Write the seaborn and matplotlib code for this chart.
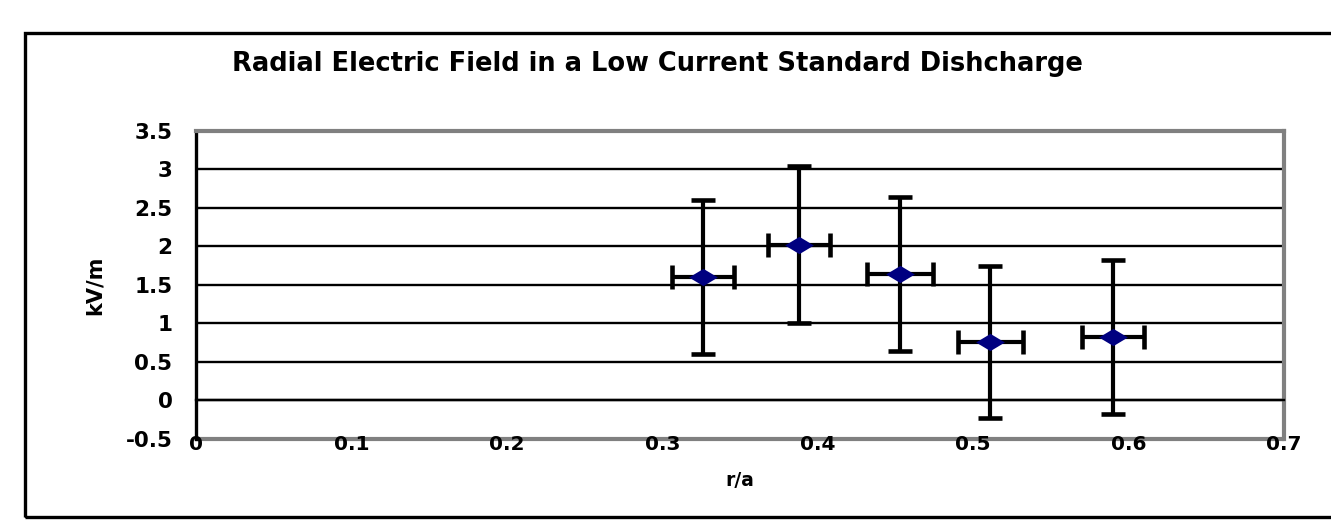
import matplotlib
matplotlib.use("Agg")
import matplotlib.pyplot as plt
from matplotlib.patches import Rectangle
import numpy as np
import pandas as pd
import seaborn as sns

# Measured radial field profile
r_over_a = [0.326, 0.388, 0.453, 0.511, 0.590]
field_kv_m = [1.61, 2.02, 1.64, 0.76, 0.82]
field_err = [1.00, 1.02, 1.00, 0.99, 1.00]
r_err = [0.02, 0.02, 0.021, 0.021, 0.02]

x_ticks = [0, 0.1, 0.2, 0.3, 0.4, 0.5, 0.6, 0.7]
y_ticks = [-0.5, 0, 0.5, 1, 1.5, 2, 2.5, 3, 3.5]

title = "Radial Electric Field in a Low Current Standard Dishcharge"
x_label = "r/a"
y_label = "kV/m"

df = pd.DataFrame({"r": r_over_a, "E": field_kv_m})

sns.set_theme(style="white")
plt.rcParams["font.family"] = ["DejaVu Sans"]
plt.rcParams["text.color"] = "black"
plt.rcParams["xtick.color"] = "black"
plt.rcParams["ytick.color"] = "black"
plt.rcParams["axes.labelcolor"] = "black"

fig = plt.figure(figsize=(13.31, 5.2), dpi=100)
ax = fig.add_axes([0.1473, 0.1558, 0.8174, 0.5923])

gray = "#808080"

# horizontal gridlines
for yv in y_ticks[1:-1]:
    ax.axhline(yv, color="black", lw=1.7, zorder=1)

ax.errorbar(r_over_a, field_kv_m, yerr=field_err, xerr=r_err, fmt="none",
            ecolor="black", elinewidth=3, capsize=8.5, capthick=3.3, zorder=3)

diamond = [(-1.0, 0.0), (0.0, 0.6), (1.0, 0.0), (0.0, -0.6), (-1.0, 0.0)]
sns.scatterplot(data=df, x="r", y="E", ax=ax, marker=diamond, s=430,
                color="#000080", edgecolor="#000080", linewidth=0, zorder=4)

ax.set_xlim(0, 0.7)
ax.set_ylim(-0.5, 3.5)
ax.set_xticks(x_ticks)
ax.set_xticklabels([f"{v:g}" for v in x_ticks])
ax.set_yticks(y_ticks)
ax.set_yticklabels([f"{v:g}" for v in y_ticks])

# x axis crosses at zero; frame drawn in gray
ax.spines["bottom"].set_position(("data", 0))
ax.spines["bottom"].set_color("black")
ax.spines["bottom"].set_linewidth(1.7)
ax.spines["left"].set_color("black")
ax.spines["left"].set_linewidth(2.4)
for side in ("top", "right"):
    ax.spines[side].set_color(gray)
    ax.spines[side].set_linewidth(3)
ax.axhline(-0.5, color=gray, lw=3, clip_on=False, zorder=0.5)

ax.tick_params(axis="x", direction="out", length=5, width=1.6, color="black",
               pad=20, labelsize=14.5, labelcolor="black")
ax.tick_params(axis="y", direction="out", length=7, width=1.6, color="black",
               pad=10, labelsize=15.5, labelcolor="black")
for lab in ax.get_xticklabels() + ax.get_yticklabels():
    lab.set_fontweight("bold")

ax.set_xlabel("")
ax.set_ylabel("")
fig.text(740 / 1331, 1 - 480 / 520, x_label, ha="center", va="center",
         fontsize=13.5, fontweight="bold", color="black")
fig.text(95 / 1331, 1 - 285 / 520, y_label, ha="center", va="center",
         rotation=90, fontsize=15, fontweight="bold", color="black")
fig.text(657 / 1331, 1 - 64 / 520, title, ha="center", va="center",
         fontsize=18.5, fontweight="bold", color="black")

# outer chart frame
fig.add_artist(Rectangle((25 / 1331, 1 - 517 / 520), 1.0, (517 - 33) / 520,
                         transform=fig.transFigure, fill=False,
                         edgecolor="black", lw=2.4, clip_on=False))

fig.savefig("out.png", dpi=100)
